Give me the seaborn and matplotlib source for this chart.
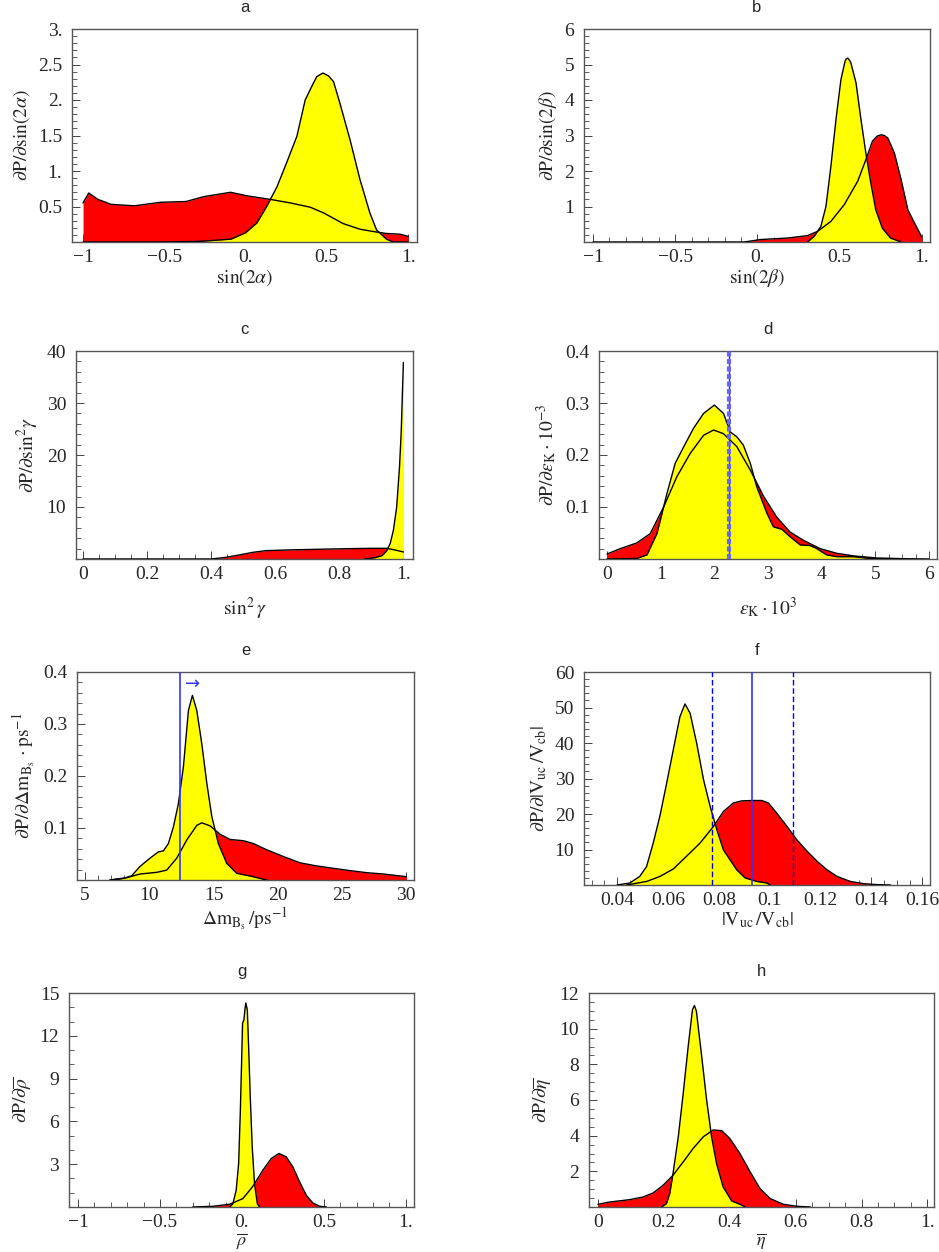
import matplotlib
matplotlib.use("Agg")
import matplotlib.pyplot as plt
import seaborn as sns
from matplotlib.ticker import AutoMinorLocator

# ---- data ----
# a: sin(2 alpha)
a_red_x = [-1.0, -0.965, -0.908, -0.827, -0.684, -0.52, -0.367, -0.255, -0.092, 0.01, 0.153, 0.276, 0.398, 0.48, 0.60, 0.704, 0.806, 0.867, 0.949, 1.0]
a_red_y = [0.55, 0.69, 0.60, 0.53, 0.51, 0.56, 0.57, 0.64, 0.70, 0.65, 0.60, 0.55, 0.49, 0.41, 0.26, 0.18, 0.14, 0.12, 0.11, 0.08]
a_yel_x = [-1.0, -0.5, -0.276, -0.09, 0.0, 0.07, 0.13, 0.194, 0.255, 0.316, 0.367, 0.418, 0.439, 0.476, 0.51, 0.541, 0.58, 0.643, 0.704, 0.765, 0.806, 0.867, 0.908, 1.0]
a_yel_y = [0.0, 0.0, 0.01, 0.04, 0.13, 0.27, 0.50, 0.78, 1.13, 1.49, 2.0, 2.24, 2.33, 2.38, 2.34, 2.26, 1.96, 1.44, 0.88, 0.41, 0.17, 0.04, 0.0, 0.0]

# b: sin(2 beta)
b_red_x = [-1.0, -0.08, 0.02, 0.18, 0.305, 0.366, 0.447, 0.528, 0.61, 0.66, 0.70, 0.728, 0.752, 0.772, 0.793, 0.833, 0.874, 0.915, 0.955, 1.0]
b_red_y = [0.0, 0.0, 0.07, 0.11, 0.18, 0.30, 0.58, 1.05, 1.71, 2.32, 2.84, 2.98, 3.02, 3.0, 2.93, 2.51, 1.76, 0.91, 0.54, 0.14]
b_yel_x = [0.305, 0.345, 0.386, 0.417, 0.447, 0.478, 0.508, 0.533, 0.539, 0.549, 0.559, 0.569, 0.60, 0.63, 0.66, 0.69, 0.72, 0.76, 0.81, 0.874]
b_yel_y = [0.0, 0.16, 0.44, 1.0, 2.13, 3.45, 4.57, 5.09, 5.15, 5.18, 5.13, 5.04, 4.48, 3.45, 2.5, 1.66, 0.91, 0.39, 0.11, 0.0]

# c: sin^2 gamma
c_red_x = [0.0, 0.40, 0.446, 0.487, 0.53, 0.57, 0.632, 0.725, 0.83, 0.90, 0.948, 0.974, 1.0]
c_red_y = [0.0, 0.0, 0.32, 0.77, 1.28, 1.6, 1.73, 1.86, 1.99, 2.05, 2.05, 1.73, 1.35]
c_yel_x = [0.88, 0.912, 0.933, 0.948, 0.959, 0.969, 0.979, 0.988, 0.993, 0.997, 1.0]
c_yel_y = [0.0, 0.26, 0.64, 1.6, 3.0, 5.6, 10.0, 17.8, 24.2, 31.9, 37.8]

# d: epsilon_K * 10^3
d_red_x = [0.0, 0.248, 0.558, 0.806, 1.055, 1.30, 1.55, 1.80, 1.986, 2.17, 2.42, 2.67, 2.92, 3.16, 3.41, 3.66, 3.97, 4.28, 4.59, 5.02, 5.52, 6.0]
d_red_y = [0.0096, 0.020, 0.031, 0.049, 0.10, 0.158, 0.203, 0.238, 0.248, 0.241, 0.216, 0.171, 0.12, 0.081, 0.052, 0.036, 0.020, 0.011, 0.006, 0.002, 0.0006, 0.0]
d_yel_x = [0.0, 0.558, 0.744, 0.93, 1.117, 1.27, 1.43, 1.61, 1.80, 2.0, 2.17, 2.30, 2.42, 2.54, 2.67, 2.79, 2.98, 3.10, 3.26, 3.41, 3.60, 3.78, 3.91, 4.09, 4.28, 4.59, 4.90, 5.2]
d_yel_y = [0.0, 0.001, 0.008, 0.049, 0.126, 0.184, 0.216, 0.251, 0.28, 0.296, 0.28, 0.244, 0.235, 0.219, 0.184, 0.139, 0.088, 0.062, 0.057, 0.043, 0.027, 0.026, 0.020, 0.008, 0.0045, 0.0045, 0.001, 0.0]
d_exp = 2.28

# e: Delta m_Bs / ps^-1
e_red_x = [6.95, 8.25, 9.28, 10.58, 11.36, 12.14, 12.92, 13.70, 14.09, 14.74, 15.51, 16.29, 17.33, 18.11, 19.15, 20.45, 21.74, 23.04, 24.34, 25.64, 26.94, 28.24, 30.0]
e_red_y = [0.0, 0.0045, 0.0115, 0.0147, 0.019, 0.042, 0.077, 0.105, 0.110, 0.104, 0.088, 0.078, 0.0755, 0.070, 0.058, 0.045, 0.033, 0.027, 0.0224, 0.018, 0.014, 0.0115, 0.0064]
e_yel_x = [6.95, 7.99, 8.63, 9.28, 10.06, 10.71, 11.1, 11.49, 11.88, 12.27, 12.66, 13.05, 13.36, 13.70, 14.09, 14.48, 14.87, 15.38, 16.03, 16.81, 17.85, 18.63, 19.15]
e_yel_y = [0.0, 0.003, 0.008, 0.026, 0.042, 0.054, 0.056, 0.070, 0.102, 0.147, 0.218, 0.326, 0.355, 0.326, 0.262, 0.186, 0.122, 0.070, 0.032, 0.0128, 0.0077, 0.003, 0.0]
e_limit = 12.4

# f: |V_uc / V_cb|
f_red_x = [0.0437, 0.0516, 0.0568, 0.0621, 0.0673, 0.0726, 0.0779, 0.0818, 0.0857, 0.089, 0.093, 0.0969, 0.0995, 0.1028, 0.1068, 0.1107, 0.1147, 0.1186, 0.1225, 0.1265, 0.1317, 0.137, 0.1423, 0.1475]
f_red_y = [0.0, 1.0, 2.4, 4.5, 8.1, 11.8, 16.5, 20.7, 23.1, 23.7, 23.8, 23.8, 23.1, 20.2, 16.5, 12.7, 9.5, 6.7, 4.3, 2.4, 1.0, 0.37, 0.1, 0.0]
f_yel_x = [0.04, 0.045, 0.0489, 0.0516, 0.0542, 0.0568, 0.0595, 0.0621, 0.0647, 0.0667, 0.0687, 0.0713, 0.074, 0.0766, 0.0792, 0.0818, 0.0844, 0.087, 0.0903, 0.0949, 0.0989, 0.1002]
f_yel_y = [0.0, 0.56, 2.4, 5.2, 11.8, 19.3, 28.7, 38.1, 47.4, 51.0, 48.4, 39.9, 29.6, 22.1, 15.6, 9.9, 7.1, 4.3, 2.0, 1.0, 0.56, 0.0]
f_central = 0.0932
f_band = [0.0772, 0.109]

# g: rho bar
g_red_x = [-0.3, -0.177, -0.075, 0.006, 0.067, 0.128, 0.179, 0.226, 0.27, 0.311, 0.352, 0.393, 0.433, 0.474, 0.515]
g_red_y = [0.0, 0.05, 0.19, 0.59, 1.45, 2.58, 3.4, 3.75, 3.52, 2.81, 1.76, 0.82, 0.28, 0.05, 0.0]
g_yel_x = [-0.075, -0.055, -0.035, -0.02, -0.01, -0.002, 0.004, 0.012, 0.018, 0.024, 0.033, 0.041, 0.051, 0.063, 0.077, 0.094, 0.108]
g_yel_y = [0.0, 0.23, 1.17, 3.05, 6.56, 10.1, 12.9, 13.1, 13.8, 14.3, 13.8, 11.25, 7.7, 4.2, 1.64, 0.23, 0.0]

# h: eta bar
h_red_x = [0.0, 0.036, 0.096, 0.137, 0.168, 0.198, 0.228, 0.259, 0.289, 0.32, 0.35, 0.376, 0.40, 0.431, 0.462, 0.492, 0.523, 0.563, 0.604, 0.645]
h_red_y = [0.15, 0.28, 0.41, 0.56, 0.79, 1.22, 1.78, 2.53, 3.28, 3.94, 4.32, 4.28, 3.85, 3.0, 1.97, 1.03, 0.47, 0.15, 0.04, 0.0]
h_yel_x = [0.193, 0.208, 0.218, 0.228, 0.244, 0.259, 0.274, 0.287, 0.293, 0.299, 0.315, 0.33, 0.345, 0.36, 0.38, 0.406, 0.431, 0.447]
h_yel_y = [0.0, 0.19, 0.75, 1.88, 3.94, 6.38, 9.0, 11.06, 11.3, 10.97, 8.44, 6.0, 3.94, 2.44, 1.13, 0.34, 0.15, 0.0]

# ---- style ----
sns.set_style("white")
plt.rcParams['font.family'] = ['Liberation Serif', 'DejaVu Serif']
plt.rcParams['mathtext.fontset'] = 'stix'
plt.rcParams['font.size'] = 14

W, H = 939, 1252
fig = plt.figure(figsize=(W / 100, H / 100), dpi=100)


def make_ax(left, right, top, bottom):
    return fig.add_axes([left / W, 1 - bottom / H, (right - left) / W, (bottom - top) / H])


def panel(ax, rx, ry, yx, yy, title, xlim, xticks, xlabels, xminor, ylim, yticks, ylabels, yminor, xlabel, ylabel):
    ax.fill_between(rx, ry, color='#ff0000', lw=0, zorder=1)
    ax.fill_between(yx, yy, color='#ffff00', lw=0, zorder=2)
    sns.lineplot(x=rx, y=ry, ax=ax, color='black', lw=1, sort=False, estimator=None, zorder=3)
    sns.lineplot(x=yx, y=yy, ax=ax, color='black', lw=1, sort=False, estimator=None, zorder=3)
    ax.set_xlim(*xlim)
    ax.set_ylim(*ylim)
    ax.set_xticks(xticks, xlabels)
    ax.set_yticks(yticks, ylabels)
    ax.xaxis.set_minor_locator(AutoMinorLocator(xminor))
    ax.yaxis.set_minor_locator(AutoMinorLocator(yminor))
    ax.tick_params(which='both', direction='in', bottom=True, left=True, top=False, right=False,
                   labelsize=14)
    ax.tick_params(axis='x', which='major', pad=5)
    ax.tick_params(axis='y', which='major', pad=7)
    ax.tick_params(which='major', length=6, width=0.7, color='#444444')
    ax.tick_params(which='minor', length=3.5, width=0.6, color='#444444')
    for s in ax.spines.values():
        s.set_color('#555555')
        s.set_linewidth(1.0)
    ax.set_title(title, family=['Liberation Sans', 'DejaVu Sans'], fontsize=12, pad=12)
    ax.set_xlabel(xlabel, fontsize=14, labelpad=1)
    ax.set_ylabel(ylabel, fontsize=14, labelpad=4)


M = '\u2212'
pm_ticks = [-1, -0.5, 0, 0.5, 1]
pm_labels = [M + '1', M + '0.5', '0.', '0.5', '1.']
unit_ticks = [0, 0.2, 0.4, 0.6, 0.8, 1]
unit_labels = ['0', '0.2', '0.4', '0.6', '0.8', '1.']

ax = make_ax(72, 417, 29, 242)
panel(ax, a_red_x, a_red_y, a_yel_x, a_yel_y, 'a', (-1.068, 1.055),
      pm_ticks, pm_labels, 5,
      (0, 3), [0.5, 1, 1.5, 2, 2.5, 3], ['0.5', '1.', '1.5', '2.', '2.5', '3.'], 5,
      r'$\mathrm{sin}(2\alpha)$', r'$\partial\mathrm{P}/\partial\mathrm{sin}(2\alpha)$')

ax = make_ax(584, 930, 29, 242)
panel(ax, b_red_x, b_red_y, b_yel_x, b_yel_y, 'b', (-1.055, 1.05),
      pm_ticks, pm_labels, 5,
      (0, 6), [1, 2, 3, 4, 5, 6], ['1', '2', '3', '4', '5', '6'], 5,
      r'$\mathrm{sin}(2\beta)$', r'$\partial\mathrm{P}/\partial\mathrm{sin}(2\beta)$')

ax = make_ax(76, 413, 351, 559)
panel(ax, c_red_x, c_red_y, c_yel_x, c_yel_y, 'c', (-0.022, 1.03),
      unit_ticks, unit_labels, 4,
      (0, 40), [10, 20, 30, 40], ['10', '20', '30', '40'], 5,
      r'$\mathrm{sin}^2\,\gamma$', r'$\partial\mathrm{P}/\partial\mathrm{sin}^2\gamma$')
ax.xaxis.labelpad = 9

ax = make_ax(599, 937, 351, 559)
panel(ax, d_red_x, d_red_y, d_yel_x, d_yel_y, 'd', (-0.15, 6.15),
      [0, 1, 2, 3, 4, 5, 6], ['0', '1', '2', '3', '4', '5', '6'], 4,
      (0, 0.4), [0.1, 0.2, 0.3, 0.4], ['0.1', '0.2', '0.3', '0.4'], 5,
      r'$\epsilon_\mathrm{K}\cdot10^3$', r'$\partial\mathrm{P}/\partial\epsilon_\mathrm{K}\cdot10^{-3}$')
ax.xaxis.labelpad = 9
ax.axvline(d_exp, color='#2222ff', lw=1, zorder=4)
ax.axvline(d_exp, color='#6666ff', lw=3, ls=(0, (1.2, 0.6)), zorder=4)

ax = make_ax(77, 414, 672, 880)
panel(ax, e_red_x, e_red_y, e_yel_x, e_yel_y, 'e', (4.38, 30.6),
      [5, 10, 15, 20, 25, 30], ['5', '10', '15', '20', '25', '30'], 5,
      (0, 0.4), [0.1, 0.2, 0.3, 0.4], ['0.1', '0.2', '0.3', '0.4'], 5,
      r'$\Delta\mathrm{m}_{\mathrm{B_s}}\,/\mathrm{ps}^{-1}$',
      r'$\partial\mathrm{P}/\partial\Delta\mathrm{m}_{\mathrm{B_s}}\,\cdot\mathrm{ps}^{-1}$')
ax.axvline(e_limit, color='#3333ff', lw=1.2, zorder=4)
ax.text(e_limit + 1.0, 0.377, '\u2192', color='#3333ff', fontsize=13, ha='center', va='center',
        family=['DejaVu Sans'])

ax = make_ax(584, 930, 672, 885)
panel(ax, f_red_x, f_red_y, f_yel_x, f_yel_y, 'f', (0.027, 0.163),
      [0.04, 0.06, 0.08, 0.1, 0.12, 0.14, 0.16], ['0.04', '0.06', '0.08', '0.1', '0.12', '0.14', '0.16'], 4,
      (0, 60), [10, 20, 30, 40, 50, 60], ['10', '20', '30', '40', '50', '60'], 5,
      r'$|\mathrm{V_{uc}}\,/\mathrm{V_{cb}}|$', r'$\partial\mathrm{P}/\partial|\mathrm{V_{uc}}\,/\mathrm{V_{cb}}|$')
ax.axvline(f_central, color='#3333ff', lw=1.2, zorder=4)
for v in f_band:
    ax.axvline(v, color='#0000ff', lw=1, ls=(0, (4, 2)), zorder=4)

ax = make_ax(69, 414, 993, 1207)
panel(ax, g_red_x, g_red_y, g_yel_x, g_yel_y, 'g', (-1.055, 1.05),
      pm_ticks, pm_labels, 5,
      (0, 15), [3, 6, 9, 12, 15], ['3', '6', '9', '12', '15'], 3,
      r'$\overline{\rho}$', r'$\partial\mathrm{P}/\partial\overline{\rho}$')
ax.xaxis.label.set_fontsize(13)
ax.xaxis.set_label_coords(0.5, -0.112)

ax = make_ax(589, 934, 993, 1207)
panel(ax, h_red_x, h_red_y, h_yel_x, h_yel_y, 'h', (-0.027, 1.02),
      unit_ticks, unit_labels, 4,
      (0, 12), [2, 4, 6, 8, 10, 12], ['2', '4', '6', '8', '10', '12'], 4,
      r'$\overline{\eta}$', r'$\partial\mathrm{P}/\partial\overline{\eta}$')
ax.xaxis.label.set_fontsize(13)
ax.xaxis.set_label_coords(0.5, -0.112)

fig.savefig('out.png', dpi=100)
